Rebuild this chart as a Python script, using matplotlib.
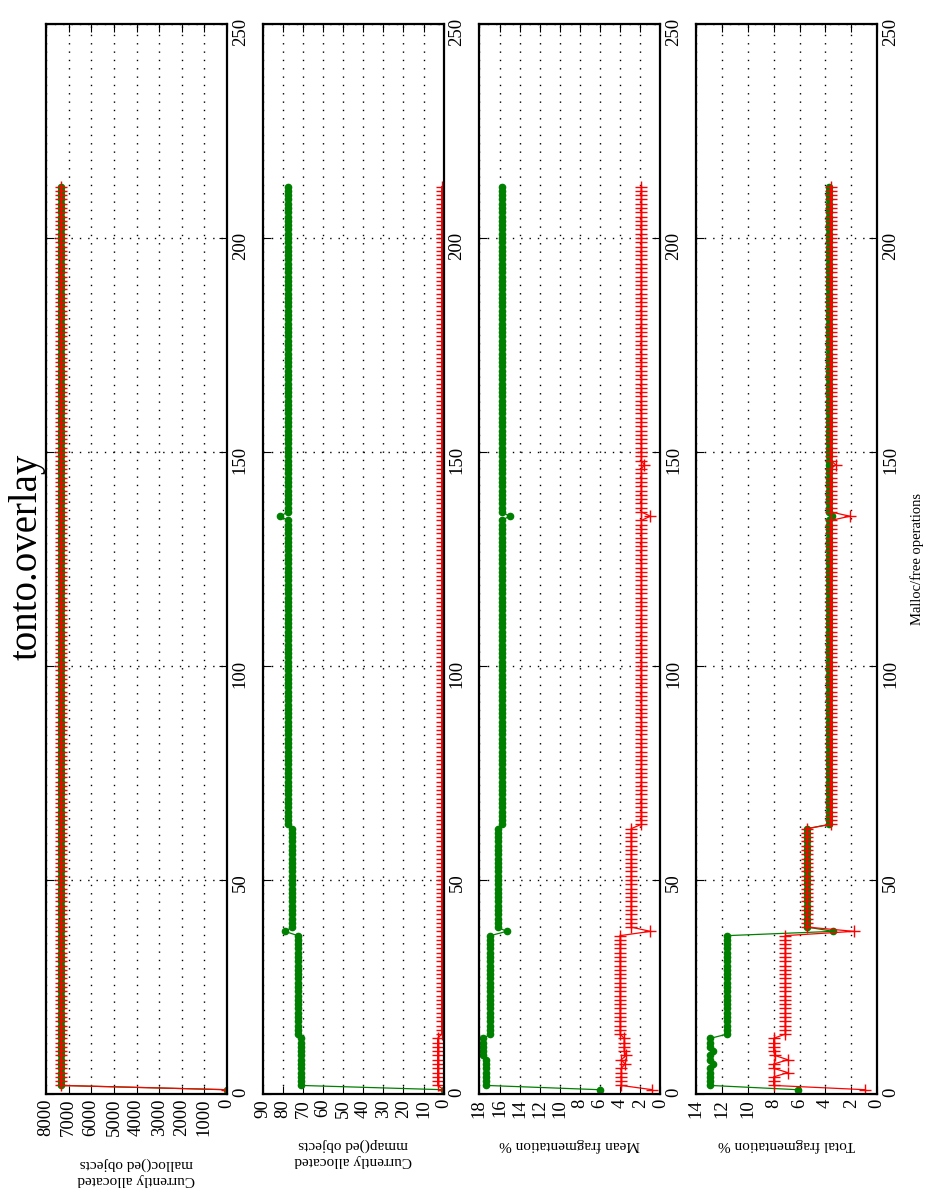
import matplotlib
matplotlib.use('Agg')
import matplotlib.pyplot as plt
import numpy as np

plt.rcParams['font.family'] = ['Liberation Serif', 'DejaVu Serif']

# sample index along the malloc/free operation axis
ops = np.arange(1, 213)

# each series is stored as (value, run length) pairs, in operation order
malloc_green = [(0, 1), (7330, 211)]
malloc_red = [(0, 1), (7330, 211)]

mmap_green = [(0, 1), (71, 12), (72.5, 24), (79, 1), (75.2, 24), (77.5, 72), (81.2, 1), (77.5, 77)]
mmap_red = [(0, 1), (3, 12), (1, 199)]

mean_green = [(6.0, 1), (17.3, 7), (17.6, 5), (16.9, 24), (15.3, 1), (16.2, 24), (15.8, 72), (15.0, 1), (15.8, 77)]
mean_red = [(0.8, 1), (3.9, 5), (3.5, 1), (3.9, 1), (3.4, 1), (3.6, 4), (4.0, 24), (1.0, 1), (2.9, 24),
            (1.9, 72), (1.0, 1), (1.9, 11), (1.6, 1), (1.9, 65)]

total_green = [(6.1, 1), (12.9, 5), (12.7, 1), (12.9, 2), (12.7, 1), (12.9, 3), (11.6, 24), (3.4, 1), (5.4, 24),
               (3.7, 72), (3.5, 1), (3.7, 77)]
total_red = [(0.9, 1), (8.0, 3), (6.9, 1), (8.0, 2), (6.9, 1), (7.9, 1), (8.0, 4), (7.1, 24), (1.8, 1), (5.4, 24),
             (3.6, 72), (2.1, 1), (3.6, 11), (3.2, 1), (3.6, 65)]

panels = [
    (malloc_green, malloc_red, 8000, 1000, 'Currently allocated\nmalloc()ed objects'),
    (mmap_green, mmap_red, 90, 10, 'Currently allocated\nmmap()ed objects'),
    (mean_green, mean_red, 18, 2, 'Mean fragmentation %'),
    (total_green, total_red, 14, 2, 'Total fragmentation %'),
]

serif = ['Liberation Serif', 'DejaVu Serif']


def expand(runs):
    vals = [v for v, n in runs]
    counts = [n for v, n in runs]
    return np.repeat(vals, counts)


fig = plt.figure(figsize=(9.3, 11.94), dpi=100)

ax_left = 46 / 930
ax_width = 181 / 930
ax_pitch = 216.7 / 930
ax_bottom = 1 - 1094 / 1194
ax_height = 1070 / 1194

axes = []
for i, (g_runs, r_runs, vmax, vstep, label) in enumerate(panels):
    ax = fig.add_axes([ax_left + i * ax_pitch, ax_bottom, ax_width, ax_height])
    ax.plot(expand(g_runs), ops, '-o', color='green', ms=4.5, lw=0.9, mec='green')
    ax.plot(expand(r_runs), ops, '-+', color='red', ms=8, lw=0.9, mew=1)
    ax.set_xlim(vmax, 0)
    ax.set_ylim(0, 250)
    ax.set_xticks(np.arange(0, vmax + 1, vstep))
    ax.set_yticks(np.arange(0, 251, 50))
    ax.grid(True, ls=(0, (1, 5)), color='k', lw=1.0)
    ax.tick_params(direction='in', length=6, top=True, bottom=True, left=True, right=True,
                   labelleft=False, labelright=True, labelsize=13.5)
    ax.tick_params(axis='both', labelrotation=90)
    for lbl in ax.get_xticklabels() + ax.get_yticklabels():
        lbl.set_fontfamily(serif)
    for sp in ax.spines.values():
        sp.set_linewidth(1.6)
    ax.set_xlabel(label, rotation=180, fontsize=11, labelpad=15)
    axes.append(ax)

axes[-1].yaxis.set_label_position('right')
axes[-1].set_ylabel('Malloc/free operations', rotation=90, fontsize=10.5, labelpad=8)

fig.text(27 / 930, 1 - 557 / 1194, 'tonto.overlay', rotation=90, fontsize=28, ha='center', va='center')

fig.savefig('out.png', dpi=100)
